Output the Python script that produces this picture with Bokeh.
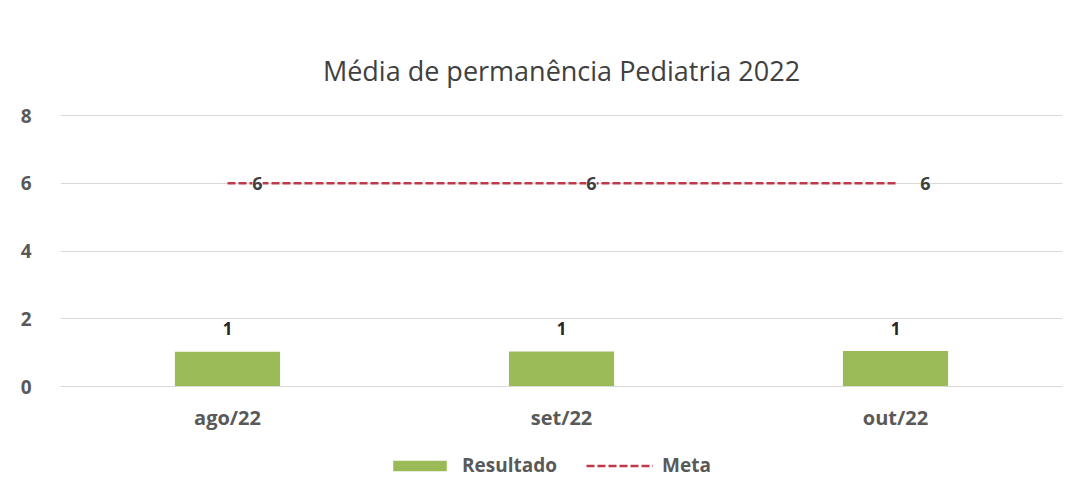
from bokeh.plotting import figure
from bokeh.models import ColumnDataSource, FactorRange, Legend, LegendItem, LabelSet, Range1d
from bokeh.core.properties import value
from bokeh.embed import file_html
from bokeh.resources import INLINE

months = ["ago/22", "set/22", "out/22"]
resultado = [1.03, 1.04, 1.05]
meta = [6, 6, 6]
res_labels = ["1", "1", "1"]
meta_labels = ["6", "6", "6"]
y_ticks = [0, 2, 4, 6, 8]

FONT = "Open Sans"

src = ColumnDataSource(dict(x=months, res=resultado, meta=meta,
                            rl=res_labels, ml=meta_labels,
                            rly=[v + 0.68 for v in resultado]))

p = figure(x_range=FactorRange(*months), y_range=Range1d(-2.77, 8.06),
           width=1065, height=482, output_backend="svg", toolbar_location=None,
           min_border_left=60, min_border_right=3, min_border_top=113, min_border_bottom=2)

p.title.text = "Média de permanência Pediatria 2022"
p.title.align = "center"
p.title.text_font = FONT
p.title.text_font_size = "27px"
p.title.text_font_style = "normal"
p.title.text_color = "#404040"
p.title.standoff = 50

bars = p.vbar(x="x", top="res", width=0.315, source=src, color="#9BBB59", line_color=None)
line = p.line(x="x", y="meta", source=src, line_color="#C0394A", line_width=2.5, line_dash="8 3")

p.add_layout(LabelSet(x="x", y="rly", text="rl", source=src, text_align="center",
                      text_baseline="middle", text_font=value(FONT), text_font_size="17px",
                      text_font_style="bold", text_color="#262626"))
p.add_layout(LabelSet(x="x", y="meta", text="ml", source=src, text_align="center",
                      text_baseline="middle", x_offset=30, text_font=value(FONT),
                      text_font_size="18px", text_font_style="bold", text_color="#404040",
                      background_fill_color="white"))

p.outline_line_color = None
p.xgrid.grid_line_color = None
p.ygrid.grid_line_color = "#d9d9d9"
p.ygrid.ticker = y_ticks
p.yaxis.ticker = y_ticks
p.yaxis.axis_line_color = None
p.yaxis.major_tick_line_color = None
p.yaxis.minor_tick_line_color = None
p.yaxis.major_label_text_font = FONT
p.yaxis.major_label_text_font_size = "19px"
p.yaxis.major_label_text_font_style = "bold"
p.yaxis.major_label_text_color = "#595959"
p.yaxis.major_label_standoff = 23

p.xaxis.fixed_location = 0
p.xaxis.axis_line_color = "#d9d9d9"
p.xaxis.major_tick_line_color = None
p.xaxis.minor_tick_line_color = None
p.xaxis.major_label_text_font = FONT
p.xaxis.major_label_text_font_size = "20px"
p.xaxis.major_label_text_font_style = "bold"
p.xaxis.major_label_text_color = "#595959"
p.xaxis.major_label_standoff = 11

legend = Legend(items=[LegendItem(label="Resultado", renderers=[bars]),
                       LegendItem(label="Meta", renderers=[line])],
                orientation="horizontal", location=(326, 2),
                label_text_font=FONT, label_text_font_size="19px",
                label_text_font_style="bold", label_text_color="#595959",
                glyph_width=67, glyph_height=13, label_standoff=9, spacing=29,
                border_line_color=None, background_fill_alpha=0, margin=0, padding=4)
p.add_layout(legend)

open("out.html", "w").write(file_html(p, INLINE))
